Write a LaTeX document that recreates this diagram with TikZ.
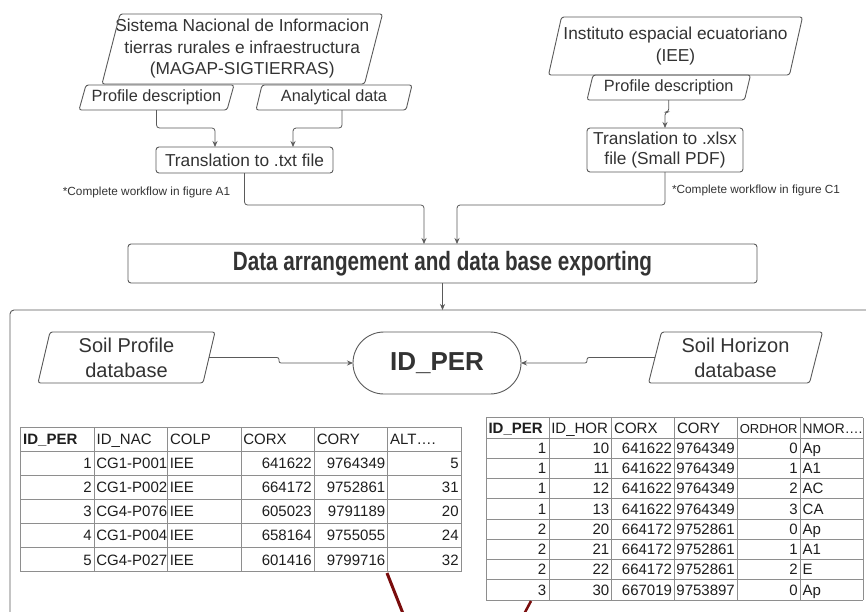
\documentclass[tikz,border=0pt]{standalone}
\usepackage{fontspec}
\usepackage{graphicx}
\setmainfont{Liberation Sans}
\usetikzlibrary{arrows.meta,shapes.misc,calc}
\definecolor{ln}{HTML}{5A5A5A}
\definecolor{txtc}{HTML}{333333}
\definecolor{tblc}{HTML}{1E1E1E}
\definecolor{grd}{HTML}{8E8E8E}
\definecolor{dred}{HTML}{7A0C0C}
\newcommand\mypara[2]{\draw[shp] ([xshift=#2]#1.north west) -- ([xshift=#2]#1.north east) -- ([xshift=-#2]#1.south east) -- ([xshift=-#2]#1.south west) -- cycle;}
\newcommand\tblfont{\fontsize{15}{17.5}\selectfont}
\begin{document}
\begin{tikzpicture}[x=1pt,y=-1pt,
 shp/.style={draw=ln, line width=0.9pt, rounded corners=2.5pt},
 lbl/.style={inner sep=0pt, outer sep=0pt, text=txtc, align=center},
 fbox/.style={draw=ln, line width=0.9pt, rounded corners=3pt, inner sep=0pt, outer sep=0pt, text=txtc, align=center},
 arr/.style={draw=ln, line width=0.8pt, rounded corners=3pt, -{Stealth[length=6pt,width=5pt]}},
 fA/.style={font=\fontsize{17.3}{21.5}\selectfont},
 fB/.style={font=\fontsize{16.3}{20}\selectfont},
 fC/.style={font=\fontsize{20}{25}\selectfont},
 note/.style={inner sep=0pt, text=txtc, font=\fontsize{11.8}{14}\selectfont},
 grid line/.style={draw=grd, line width=0.6pt},
 cl/.style={anchor=west, inner sep=0pt, outer sep=0pt, text height=10.7pt, text depth=0pt, font=\tblfont, text=tblc},
 cr/.style={anchor=east, inner sep=0pt, outer sep=0pt, text height=10.7pt, text depth=0pt, font=\tblfont, text=tblc}]
\clip (0,0) rectangle (866,611);
\useasboundingbox (0,0) rectangle (866,611);
\fill[white] (0,0) rectangle (866,611);

% ---- top left branch
\node[lbl,fA,minimum width=262.5pt,minimum height=70pt] (sis) at (242.25,49) {Sistema Nacional de Informacion\\tierras rurales e infraestructura\\(MAGAP-SIGTIERRAS)};
\mypara{sis}{9pt}
\node[lbl,fB,minimum width=148pt,minimum height=25pt] (pd1) at (156.5,97.5) {Profile description};
\mypara{pd1}{3.5pt}
\node[lbl,fB,minimum width=150pt,minimum height=25pt] (ad) at (334,97.5) {Analytical data};
\mypara{ad}{3pt}
\node[fbox,fA,minimum width=177pt,minimum height=26pt] (tt) at (244.5,160) {Translation to .txt file};
\node[note] (n1) at (146.5,192) {*Complete workflow in figure A1};

% ---- top right branch
\node[lbl,fA,minimum width=241pt,minimum height=58pt] (iee) at (675.5,46) {Instituto espacial ecuatoriano\\(IEE)};
\mypara{iee}{6.5pt}
\node[lbl,fB,minimum width=157.5pt,minimum height=25pt] (pd2) at (668.75,87.5) {Profile description};
\mypara{pd2}{3pt}
\node[fbox,font=\fontsize{17.3}{20.5}\selectfont,minimum width=156pt,minimum height=44pt] (tx) at (665,150) {Translation to .xlsx\\file (Small PDF)};
\node[note] (n2) at (756,190) {*Complete workflow in figure C1};

% ---- data arrangement bar
\node[fbox,minimum width=629pt,minimum height=39pt] (dab) at (442.5,263.5) {\scalebox{0.78}[1]{\fontsize{26.5}{30}\selectfont\bfseries Data arrangement and data base exporting}};

% ---- container
\draw[draw=ln, line width=0.9pt, rounded corners=4pt] (10,700) -- (10,310) -- (900,310);
\coordinate (ctop) at (442.5,310);

% ---- databases and key
\node[lbl,fC,minimum width=165pt,minimum height=51pt] (spd) at (126.5,357.5) {Soil Profile\\database};
\mypara{spd}{6pt}
\node[lbl,fC,minimum width=161pt,minimum height=51pt] (shd) at (735.5,357.5) {Soil Horizon\\database};
\mypara{shd}{6.5pt}
\node[draw=ln, line width=0.9pt, rounded rectangle, minimum width=168pt, minimum height=62pt, inner sep=0pt, outer sep=0pt, text=txtc, font=\fontsize{26}{30}\selectfont\bfseries] (idper) at (437,363) {ID\_PER};

% ---- connectors
\draw[arr] (pd1.south) -- ++(0,18) -| ([xshift=-29.5pt]tt.north);
\draw[arr] ([xshift=8pt]ad.south) -- ++(0,18) -| ([xshift=48.5pt]tt.north);
\draw[arr] (pd2.south) -- ++(0,12) -| (tx.north);
\draw[arr] (tt.south) -- ++(0,32) -| ([xshift=-18.5pt]dab.north);
\draw[arr] (tx.south) -- ++(0,33) -| ([xshift=14.5pt]dab.north);
\draw[arr] (dab.south) -- (ctop);
\draw[arr, rounded corners=2pt] (spd.east) -- ++(70,0) |- (idper.west);
\draw[arr, rounded corners=2pt] (shd.west) -- ++(-68,0) |- (idper.east);

% ---- table A (soil profile)
\foreach \i in {0,...,6} \draw[grid line] ({20.7+73.4*\i},427.3) -- ({20.7+73.4*\i},571.7);
\foreach \j in {0,...,6} \draw[grid line] (20.7,{427.3+24.07*\j}) -- (461.1,{427.3+24.07*\j});
\node[cl,font=\tblfont\bfseries] (A0-1) at (23.2,439.3) {ID\_PER};
\node[cl] (A0-2) at (96.6,439.3) {ID\_NAC};
\node[cl] (A0-3) at (170,439.3) {COLP};
\node[cl] (A0-4) at (243.4,439.3) {CORX};
\node[cl] (A0-5) at (316.8,439.3) {CORY};
\node[cl] (A0-6) at (390.2,439.3) {ALT….};
\foreach \ri/\va/\vb/\vc/\vd/\ve/\vf in {1/1/CG1-P001/IEE/641622/9764349/5,2/2/CG1-P002/IEE/664172/9752861/31,3/3/CG4-P076/IEE/605023/9791189/20,4/4/CG1-P004/IEE/658164/9755055/24,5/5/CG4-P027/IEE/601416/9799716/32}{
 \pgfmathsetmacro\yy{427.3+24.07*(\ri+0.5)}
 \node[cr] (A\ri-1) at (91.6,\yy) {\va};
 \node[cl] (A\ri-2) at (96.4,\yy) {\vb};
 \node[cl] (A\ri-3) at (169.8,\yy) {\vc};
 \node[cr] (A\ri-4) at (311.8,\yy) {\vd};
 \node[cr] (A\ri-5) at (385.2,\yy) {\ve};
 \node[cr] (A\ri-6) at (458.6,\yy) {\vf};
}

% ---- table B (soil horizon)
\foreach \i in {0,...,6} \draw[grid line] ({486+62.833*\i},417.75) -- ({486+62.833*\i},600);
\foreach \j in {0,...,9} \draw[grid line] (486,{417.75+20.25*\j}) -- (863,{417.75+20.25*\j});
\node[cl,font=\tblfont\bfseries] (B0-1) at (488.5,427.9) {ID\_PER};
\node[cl] (B0-2) at (551.3,427.9) {ID\_HOR};
\node[cl] (B0-3) at (614.2,427.9) {CORX};
\node[cl] (B0-4) at (677,427.9) {CORY};
\node[cl,font=\fontsize{13}{15}\selectfont] (B0-5) at (739.8,427.9) {ORDHOR};
\node[cl,font=\fontsize{13.8}{16}\selectfont] (B0-6) at (802.7,427.9) {NMOR….};
\foreach \ri/\va/\vb/\vc/\vd/\ve/\vf in {1/1/10/641622/9764349/0/Ap,2/1/11/641622/9764349/1/A1,3/1/12/641622/9764349/2/AC,4/1/13/641622/9764349/3/CA,5/2/20/664172/9752861/0/Ap,6/2/21/664172/9752861/1/A1,7/2/22/664172/9752861/2/E,8/3/30/667019/9753897/0/Ap}{
 \pgfmathsetmacro\yy{417.75+20.25*(\ri+0.5)}
 \node[cr] (B\ri-1) at (546.3,\yy) {\va};
 \node[cr] (B\ri-2) at (609.2,\yy) {\vb};
 \node[cr] (B\ri-3) at (672,\yy) {\vc};
 \node[cr] (B\ri-4) at (734.8,\yy) {\vd};
 \node[cr] (B\ri-5) at (797.7,\yy) {\ve};
 \node[cl] (B\ri-6) at (802.7,\yy) {\vf};
}

% ---- red marks
\draw[dred, line width=3pt] (387,573) -- (404,616);
\draw[dred, line width=2.5pt] (523,616) -- (531,601);
\end{tikzpicture}
\end{document}
